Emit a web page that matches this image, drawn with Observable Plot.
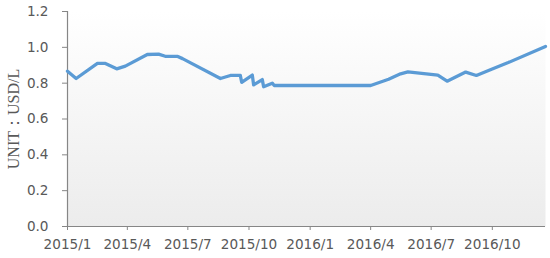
<!DOCTYPE html>
<html>
<head>
<meta charset="utf-8">
<script src="https://cdn.jsdelivr.net/npm/d3@7"></script>
<script src="https://cdn.jsdelivr.net/npm/@observablehq/plot@0.6"></script>
<style>
  html, body { margin: 0; padding: 0; background: white; }
</style>
</head>
<body>
<div id="chart"></div>
<script>
const dates = ["2015-01-01","2015-01-14","2015-02-15","2015-02-27","2015-03-16","2015-03-29",
  "2015-05-01","2015-05-18","2015-05-28","2015-06-15","2015-06-23","2015-08-19","2015-09-03",
  "2015-09-18","2015-09-20","2015-10-06","2015-10-08","2015-10-21","2015-10-23","2015-11-05",
  "2015-11-08","2016-04-01","2016-04-28","2016-05-16","2016-05-27","2016-07-11","2016-07-25",
  "2016-08-22","2016-09-07","2016-09-29","2016-10-25","2016-12-20"];
const values = [0.867,0.826,0.91,0.91,0.88,0.895,
  0.96,0.962,0.95,0.95,0.937,0.826,0.843,
  0.843,0.805,0.845,0.79,0.82,0.78,0.80,
  0.787,0.787,0.822,0.852,0.863,0.845,0.811,
  0.862,0.843,0.876,0.915,1.005];
const xTicks = ["2015-01-01","2015-04-01","2015-07-01","2015-10-01","2016-01-01","2016-04-01","2016-07-01","2016-10-01"];
const yTicks = [0, 0.2, 0.4, 0.6, 0.8, 1.0, 1.2];
const yLabel = "UNIT：USD/L";

const data = dates.map((d, i) => ({date: new Date(d), value: values[i]}));
const axisGray = "#868686";
const textGray = "#595959";

const svg = Plot.plot({
  width: 550,
  height: 258,
  marginLeft: 67,
  marginRight: 5,
  marginTop: 11,
  marginBottom: 32,
  style: {fontFamily: "DejaVu Sans", fontSize: "13.6px", background: "white", color: textGray},
  x: {type: "utc", domain: [new Date("2015-01-01"), new Date("2016-12-20")]},
  y: {domain: [0, 1.2]},
  marks: [
    Plot.frame({fill: "url(#bggrad)", stroke: null}),
    Plot.axisX({
      ticks: xTicks.map(d => new Date(d)),
      tickFormat: d => `${d.getUTCFullYear()}/${d.getUTCMonth() + 1}`,
      tickSize: 4, tickPadding: 9, stroke: axisGray, fill: textGray, label: null
    }),
    Plot.axisY({
      ticks: yTicks, tickFormat: d => d.toFixed(1),
      tickSize: 5, tickPadding: 14, stroke: axisGray, fill: textGray, label: null
    }),
    Plot.ruleX([0], {x: () => new Date("2015-01-01"), stroke: axisGray, strokeWidth: 1.2}),
    Plot.ruleY([0], {stroke: axisGray, strokeWidth: 1.2}),
    Plot.line(data, {x: "date", y: "value", stroke: "#5b9bd5", strokeWidth: 3.3,
      strokeLinejoin: "round", strokeLinecap: "round"}),
    Plot.text([yLabel], {frameAnchor: "left", dx: -54, rotate: -90, text: d => d,
      textAnchor: "middle", fontFamily: "Liberation Serif", fontSize: 16, fill: textGray})
  ]
});

const defs = d3.create("svg:defs");
const g = defs.append("linearGradient").attr("id", "bggrad")
  .attr("x1", 0).attr("y1", 0).attr("x2", 0).attr("y2", 1);
g.append("stop").attr("offset", "0%").attr("stop-color", "#ffffff");
g.append("stop").attr("offset", "100%").attr("stop-color", "#ececec");
svg.insertBefore(defs.node(), svg.firstChild);

document.getElementById("chart").appendChild(svg);
</script>
</body>
</html>
